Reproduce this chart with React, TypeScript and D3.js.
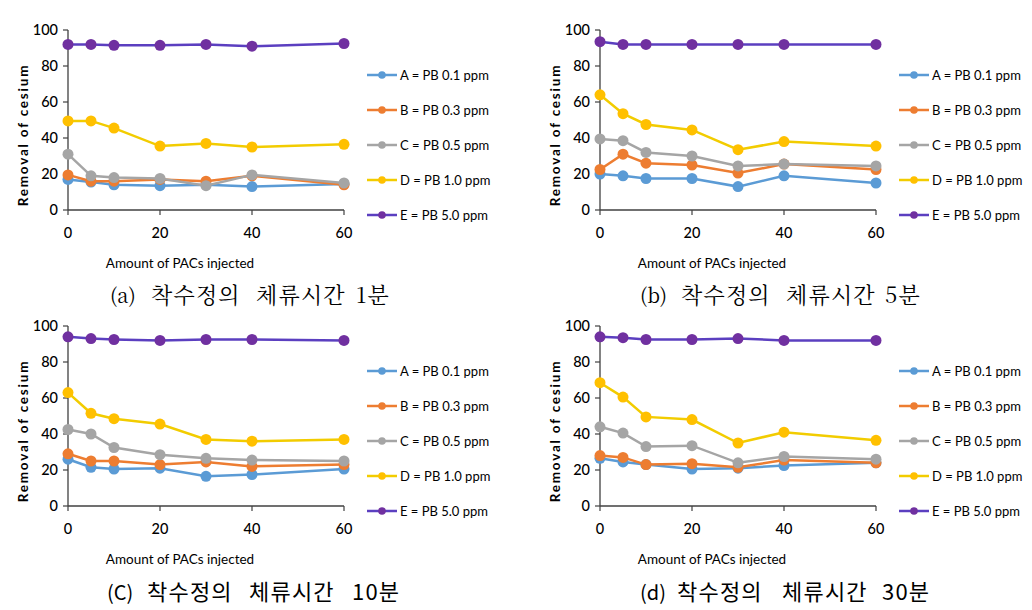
import React from "react";
import * as d3 from "d3";

const xValues = [0, 5, 10, 20, 30, 40, 60];
const xTicks = [0, 20, 40, 60];
const yTicks = [0, 20, 40, 60, 80, 100];
const seriesLabels = ["A = PB 0.1 ppm", "B = PB 0.3 ppm", "C = PB 0.5 ppm", "D = PB 1.0 ppm", "E = PB 5.0 ppm"];
const markerColors = ["#5B9BD5", "#ED7D31", "#A5A5A5", "#FFC000", "#7030A0"];
const lineColors = ["#5B9BD5", "#ED7D31", "#A5A5A5", "#F2CC00", "#5B3FC0"];

// rows: A, B, C, D, E
const removal1min = [
  [17, 15.5, 14, 13.5, 14, 13, 14.5],
  [19.5, 16, 16, 17, 16, 19, 14],
  [31, 19, 18, 17.5, 13.5, 19.5, 15],
  [49.5, 49.5, 45.5, 35.5, 37, 35, 36.5],
  [92, 92, 91.5, 91.5, 92, 91, 92.5],
];
const removal5min = [
  [20, 19, 17.5, 17.5, 13, 19, 15],
  [22.5, 31, 26, 25, 20.5, 25.5, 22.5],
  [39.5, 38.5, 32, 30, 24.5, 25.5, 24.5],
  [64, 53.5, 47.5, 44.5, 33.5, 38, 35.5],
  [93.5, 92, 92, 92, 92, 92, 92],
];
const removal10min = [
  [26, 21.5, 20.5, 21, 16.5, 17.5, 20.5],
  [29, 25, 25, 23, 24.5, 22, 23],
  [42.5, 40, 32.5, 28.5, 26.5, 25.5, 25],
  [63, 51.5, 48.5, 45.5, 37, 36, 37],
  [94, 93, 92.5, 92, 92.5, 92.5, 92],
];
const removal30min = [
  [26.5, 24.5, 23, 20.5, 21, 22.5, 24],
  [28, 27, 23, 23.5, 21.5, 25.5, 24],
  [44, 40.5, 33, 33.5, 24, 27.5, 26],
  [68.5, 60.5, 49.5, 48, 35, 41, 36.5],
  [94, 93.5, 92.5, 92.5, 93, 92, 92],
];
const captionWords = [
  ["(a)", "착수정의", "체류시간", "1분"],
  ["(b)", "착수정의", "체류시간", "5분"],
  ["(C)", "착수정의", "체류시간", "10분"],
  ["(d)", "착수정의", "체류시간", "30분"],
];
const panelData = [removal1min, removal5min, removal10min, removal30min];

const tickFont = "Lato, 'Open Sans', sans-serif";

function Panel({ data, words, wordX, ox, oy, serif }: { data: number[][]; words: string[]; wordX: number[]; ox: number; oy: number; serif: boolean }) {
  const x = d3.scaleLinear().domain([0, 60]).range([68, 344]);
  const y = d3.scaleLinear().domain([0, 100]).range([210, 30]);
  const line = d3
    .line<number>()
    .x((_, i) => x(xValues[i]))
    .y((d) => y(d));
  const capFont = serif ? "'Noto Serif CJK KR', 'DejaVu Serif', serif" : "'Noto Sans CJK KR', 'Noto Sans', sans-serif";
  return (
    <g transform={`translate(${ox},${oy})`}>
      <line x1={x(0)} x2={x(0)} y1={y(0)} y2={y(100)} stroke="#404040" strokeWidth={1.3} />
      <line x1={x(0)} x2={x(60)} y1={y(0)} y2={y(0)} stroke="#404040" strokeWidth={1.3} />
      {yTicks.map((t) => (
        <g key={"y" + t}>
          <line x1={x(0) - 5} x2={x(0)} y1={y(t)} y2={y(t)} stroke="#404040" strokeWidth={1.2} />
          <text x={x(0) - 10} y={y(t)} dy="0.35em" textAnchor="end" fontFamily={tickFont} fontWeight={500} fontSize={14.5} fill="#000">
            {t}
          </text>
        </g>
      ))}
      {xTicks.map((t) => (
        <g key={"x" + t}>
          <line x1={x(t)} x2={x(t)} y1={y(0)} y2={y(0) + 5} stroke="#404040" strokeWidth={1.2} />
          <text x={x(t)} y={233} dy="0.35em" textAnchor="middle" fontFamily={tickFont} fontWeight={500} fontSize={14.5} fill="#000">
            {t}
          </text>
        </g>
      ))}
      <text x={180} y={263} dy="0.35em" textAnchor="middle" fontFamily={tickFont} fontSize={13.5} fill="#000">
        Amount of PACs injected
      </text>
      <text
        transform={`translate(23,${(y(0) + y(100)) / 2 + 15}) rotate(-90)`}
        textAnchor="middle"
        dy="0.35em"
        fontFamily={tickFont}
        fontWeight="bold"
        fontSize={13.5}
        letterSpacing={1.8}
        fill="#000"
      >
        Removal of cesium
      </text>
      {data.map((vals, si) => (
        <g key={"s" + si}>
          <path d={line(vals) || ""} fill="none" stroke={lineColors[si]} strokeWidth={2.5} />
          {vals.map((v, i) => (
            <circle key={i} cx={x(xValues[i])} cy={y(v)} r={5.5} fill={markerColors[si]} />
          ))}
        </g>
      ))}
      {seriesLabels.map((lab, si) => {
        const ly = 75 + si * 35;
        return (
          <g key={"l" + si}>
            <line x1={367} x2={397} y1={ly} y2={ly} stroke={lineColors[si]} strokeWidth={2.5} />
            <circle cx={382} cy={ly} r={3.8} fill={markerColors[si]} />
            <text x={400} y={ly} dy="0.35em" fontFamily={tickFont} fontSize={13} fill="#000">
              {lab}
            </text>
          </g>
        );
      })}
      {words.map((w, wi) => (
        <text
          key={"c" + wi}
          x={wordX[wi]}
          y={serif ? 303 : 304}
          fontFamily={capFont}
          fontSize={wi === 0 ? 20 : 22}
          letterSpacing={wi === 0 ? 0 : 1.2}
          fill="#000"
        >
          {w}
        </text>
      ))}
    </g>
  );
}

export default function App() {
  const offsets = [
    [0, 0],
    [532, 0],
    [0, 296],
    [532, 296],
  ];
  // caption word left positions (relative to panel origin)
  const wordXs = [
    [110, 151, 256, 356],
    [108, 149, 254, 353],
    [107, 147, 249, 352],
    [108, 145, 250, 350],
  ];
  return (
    <svg width={1032} height={610} style={{ position: "absolute", left: 0, top: 0, background: "#fff" }}>
      <rect width={1032} height={610} fill="#fff" />
      {panelData.map((d, i) => (
        <Panel key={i} data={d} words={captionWords[i]} wordX={wordXs[i]} ox={offsets[i][0]} oy={offsets[i][1]} serif={i < 2} />
      ))}
    </svg>
  );
}
